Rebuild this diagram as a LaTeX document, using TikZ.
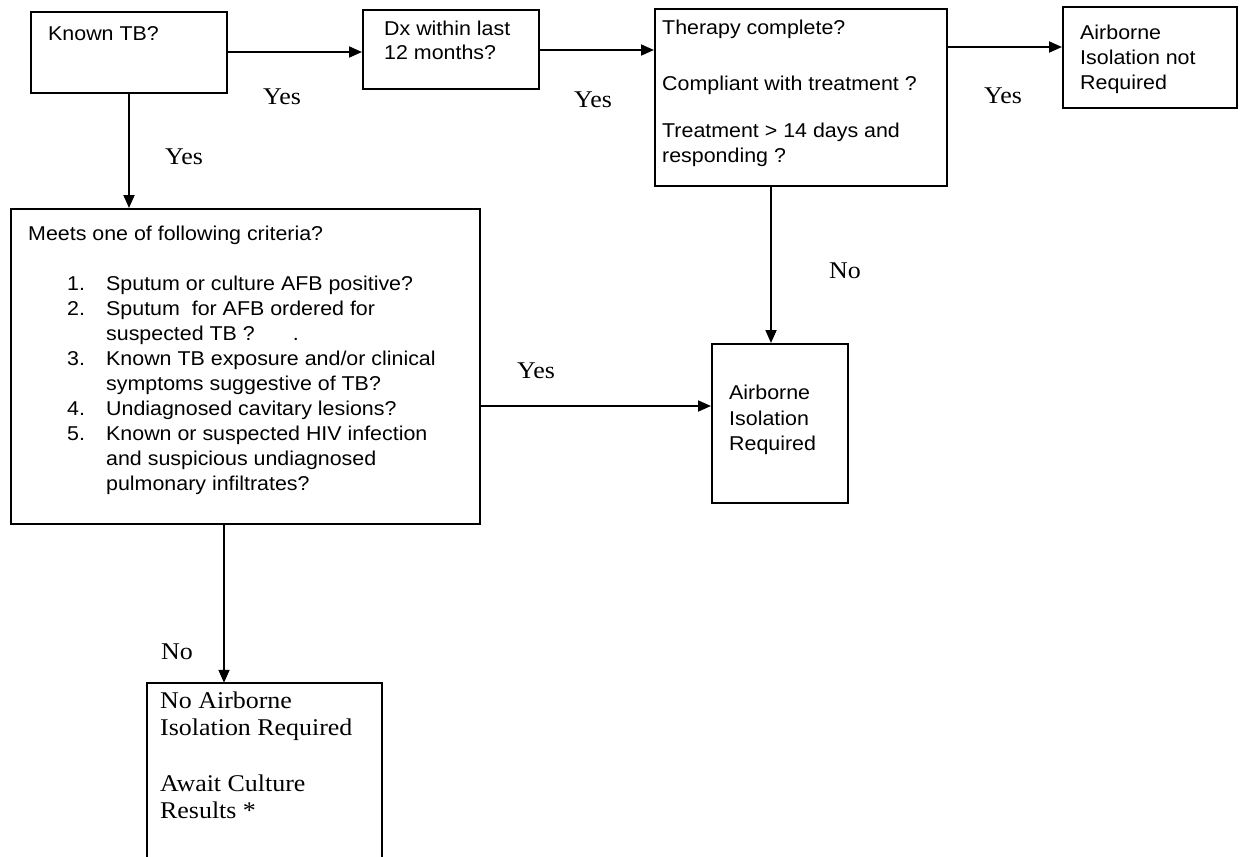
\documentclass[tikz,border=0pt]{standalone}
\usepackage{fontspec}
\setmainfont{Liberation Serif}[FakeStretch=1.08]
\newfontfamily\arialf{Liberation Sans}[FakeStretch=1.07]
\usetikzlibrary{arrows.meta,calc}
\begin{document}
\begin{tikzpicture}[x=1pt,y=-1pt,
  box/.style={draw,line width=2pt,inner sep=0pt,rectangle},
  ghost/.style={inner sep=0pt,rectangle},
  arr/.style={line width=1.8pt,-{Triangle[length=13pt,width=11pt]}},
  lab/.style={font=\fontsize{24}{27}\selectfont,inner sep=0pt,anchor=base},
  sans/.style={font=\arialf\fontsize{20}{25}\selectfont,inner sep=0pt,anchor=base west},
  serif/.style={font=\fontsize{24}{27}\selectfont,inner sep=0pt,anchor=base west}
]
\useasboundingbox (0,0) rectangle (1243,857);
\fill[white] (0,0) rectangle (1243,857);

% boxes
\node[box,minimum width=196pt,minimum height=81pt] (known) at (129,52.5) {};
\node[box,minimum width=176pt,minimum height=79pt] (dx) at (451,49.5) {};
\node[box,minimum width=292pt,minimum height=177pt] (ther) at (801,97.5) {};
\node[box,minimum width=174pt,minimum height=101pt] (notreq) at (1150,57.5) {};
\node[box,minimum width=469pt,minimum height=315pt] (meets) at (245.5,366.5) {};
\node[box,minimum width=136pt,minimum height=159pt] (req) at (780,423.5) {};
\node[ghost,minimum width=235pt,minimum height=200pt] (noair) at (264.5,783) {};
\draw[line width=2pt] (noair.south west) -- (noair.north west) -- (noair.north east) -- (noair.south east);

% texts
\node[sans] (tknown) at (48,40) {Known TB?};
\node[sans] (tdx) at (384,35) {\begin{tabular}[t]{@{}l@{}}Dx within last\\[-1pt]12 months?\end{tabular}};
\node[sans] (tther) at (662,34) {\begin{tabular}[t]{@{}l@{}}Therapy complete?\\[31pt]Compliant with treatment ?\\[22pt]Treatment > 14 days and\\responding ?\end{tabular}};
\node[sans] (tnotreq) at (1080,39) {\begin{tabular}[t]{@{}l@{}}Airborne\\Isolation not\\Required\end{tabular}};
\node[sans] (tmeets) at (28,240) {Meets one of following criteria?};
\node[sans] (tlist) at (67,290) {\begin{tabular}[t]{@{}p{39pt}@{}l@{}}
1. & Sputum or culture AFB positive?\\
2. & Sputum\ \ for AFB ordered for\\
 & suspected TB ?\hspace{38pt}.\\
3. & Known TB exposure and/or clinical\\
 & symptoms suggestive of TB?\\
4. & Undiagnosed cavitary lesions?\\
5. & Known or suspected HIV infection\\
 & and suspicious undiagnosed\\
 & pulmonary infiltrates?
\end{tabular}};
\node[sans] (treq) at (729,399) {\begin{tabular}[t]{@{}l@{}}Airborne\\[1pt]Isolation\\Required\end{tabular}};
\node[serif] (tnoair) at (160,708) {\begin{tabular}[t]{@{}l@{}}No Airborne\\Isolation Required\\[29pt]Await Culture\\Results *\end{tabular}};

% connectors
\draw[arr] (known.east |- 0,52) -- (dx.west |- 0,52);
\draw[arr] (dx.east |- 0,50) -- (ther.west |- 0,50);
\draw[arr] (ther.east |- 0,47) -- (notreq.west |- 0,47);
\draw[arr] (known.south) -- (known.south |- meets.north);
\draw[arr] (ther.south -| 771,0) -- (req.north -| 771,0);
\draw[arr] (meets.east |- 0,406) -- (req.west |- 0,406);
\draw[arr] (meets.south -| 224,0) -- (noair.north -| 224,0);

% labels
\node[lab] (y1) at (282,104) {Yes};
\node[lab] (y2) at (184,164) {Yes};
\node[lab] (y3) at (593,107) {Yes};
\node[lab] (y4) at (1003,103) {Yes};
\node[lab] (n1) at (845,278) {No};
\node[lab] (y5) at (536,378) {Yes};
\node[lab] (n2) at (177,659) {No};
\end{tikzpicture}
\end{document}
